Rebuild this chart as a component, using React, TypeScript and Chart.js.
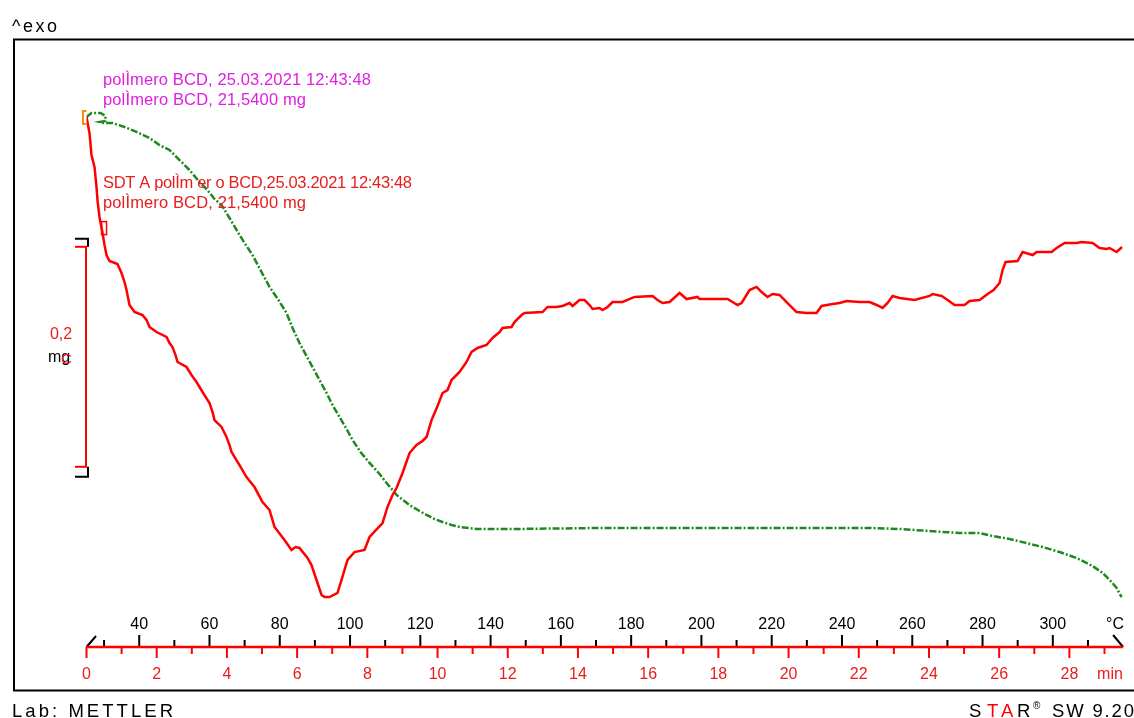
import React, { useEffect, useRef } from "react";
import { Chart, registerables } from "chart.js";

Chart.register(...registerables);

// SDTA trace (red): [time in min, signal in scale units; 0,2 per scale bar]
const sdtaTrace: [number, number][] = [
  [0, 0], [0.085, -0.0145], [0.142, -0.0345], [0.228, -0.0455], [0.285, -0.0636], [0.313, -0.0755],
  [0.37, -0.0909], [0.456, -0.1055], [0.513, -0.1164], [0.57, -0.1255], [0.655, -0.1309], [0.883, -0.1336],
  [0.997, -0.1418], [1.083, -0.15], [1.14, -0.1573], [1.225, -0.1709], [1.368, -0.1773], [1.595, -0.18],
  [1.709, -0.1845], [1.795, -0.1909], [1.994, -0.1955], [2.279, -0.2], [2.365, -0.2055], [2.45, -0.2091],
  [2.536, -0.2164], [2.593, -0.2227], [2.849, -0.2273], [2.991, -0.2345], [3.134, -0.2409], [3.305, -0.25],
  [3.504, -0.26], [3.59, -0.2682], [3.647, -0.2755], [3.846, -0.2818], [3.989, -0.2909], [4.074, -0.2982],
  [4.131, -0.3045], [4.359, -0.3164], [4.558, -0.3273], [4.786, -0.3364], [5.014, -0.35], [5.214, -0.3573],
  [5.356, -0.3727], [5.641, -0.3845], [5.84, -0.3936], [5.954, -0.3909], [6.068, -0.3918], [6.296, -0.4009],
  [6.41, -0.4073], [6.553, -0.4209], [6.695, -0.4345], [6.781, -0.4364], [6.923, -0.4364], [7.151, -0.4327],
  [7.265, -0.4209], [7.436, -0.4027], [7.635, -0.3955], [7.92, -0.3936], [8.063, -0.3818], [8.433, -0.3691],
  [8.575, -0.3545], [8.718, -0.3436], [8.832, -0.3373], [9.003, -0.3236], [9.202, -0.3055], [9.402, -0.2982],
  [9.573, -0.2945], [9.687, -0.2909], [9.829, -0.2755], [10.0, -0.2627], [10.142, -0.2509], [10.285, -0.2482],
  [10.399, -0.2391], [10.627, -0.2318], [10.826, -0.2227], [10.969, -0.2136], [11.14, -0.21], [11.396, -0.2073],
  [11.567, -0.2009], [11.766, -0.1955], [11.852, -0.1918], [12.108, -0.1909], [12.194, -0.1864], [12.393, -0.18],
  [12.479, -0.1782], [12.991, -0.1773], [13.134, -0.1727], [13.39, -0.1727], [13.561, -0.1718], [13.761, -0.1691],
  [13.846, -0.1718], [14.046, -0.1664], [14.188, -0.1664], [14.33, -0.1709], [14.416, -0.1745], [14.615, -0.1736],
  [14.701, -0.1755], [14.843, -0.1727], [14.986, -0.1682], [15.271, -0.1682], [15.613, -0.1636], [16.125, -0.1627],
  [16.268, -0.1664], [16.41, -0.1691], [16.61, -0.1682], [16.895, -0.16], [17.094, -0.1655], [17.407, -0.1636],
  [17.464, -0.1655], [18.262, -0.1655], [18.547, -0.1709], [18.661, -0.1691], [18.889, -0.1573], [19.088, -0.1545],
  [19.231, -0.1591], [19.402, -0.1636], [19.544, -0.1609], [19.744, -0.1618], [19.943, -0.1682], [20.228, -0.1773],
  [20.513, -0.1782], [20.798, -0.1782], [20.94, -0.1718], [21.254, -0.17], [21.453, -0.1691], [21.652, -0.1673],
  [22.023, -0.1682], [22.308, -0.1682], [22.507, -0.1709], [22.678, -0.1736], [22.821, -0.1691], [22.963, -0.1627],
  [23.162, -0.1645], [23.59, -0.1664], [24.017, -0.1627], [24.103, -0.1609], [24.359, -0.1627], [24.53, -0.1664],
  [24.729, -0.1709], [25.014, -0.1709], [25.157, -0.1673], [25.442, -0.1664], [25.67, -0.1609], [25.84, -0.1573],
  [26.011, -0.1509], [26.097, -0.1391], [26.182, -0.1318], [26.524, -0.1309], [26.667, -0.1227], [26.952, -0.1255],
  [27.066, -0.1227], [27.493, -0.1227], [27.635, -0.1191], [27.863, -0.1145], [28.205, -0.1145], [28.348, -0.1136],
  [28.661, -0.1145], [28.86, -0.1191], [29.06, -0.12], [29.145, -0.1191], [29.345, -0.1227], [29.5, -0.1182],
];

// TGA trace (green): [time in min, sample mass in mg]
const tgaTrace: [number, number][] = [
  [0, 21.54], [0.142, 21.5436], [0.399, 21.5436], [0.541, 21.5409], [0.541, 21.5364], [0.37, 21.5355],
  [0.484, 21.5345], [0.741, 21.5345], [1.083, 21.5309], [1.425, 21.5264], [1.795, 21.5209], [2.08, 21.5145],
  [2.365, 21.51], [2.65, 21.5009], [2.934, 21.4918], [3.219, 21.4809], [3.419, 21.4745], [3.647, 21.4655],
  [3.846, 21.46], [4.074, 21.4482], [4.274, 21.4373], [4.501, 21.4255], [4.729, 21.4145], [4.986, 21.3991],
  [5.214, 21.3855], [5.47, 21.3736], [5.698, 21.3618], [5.869, 21.3482], [6.068, 21.3345], [6.268, 21.3227],
  [6.439, 21.3127], [6.638, 21.3009], [6.838, 21.2891], [7.009, 21.2782], [7.208, 21.2673], [7.407, 21.2564],
  [7.578, 21.2464], [7.806, 21.2355], [8.063, 21.2255], [8.348, 21.2155], [8.547, 21.2073], [8.718, 21.2009],
  [8.832, 21.1964], [9.202, 21.1873], [9.487, 21.1818], [9.687, 21.1782], [9.915, 21.1745], [10.142, 21.1718],
  [10.399, 21.1691], [10.627, 21.1673], [11.111, 21.1655], [12.336, 21.1655], [14.615, 21.1664], [17.464, 21.1664],
  [20.313, 21.1664], [22.308, 21.1664], [23.162, 21.1655], [24.017, 21.1636], [24.872, 21.1618], [25.442, 21.1618],
  [25.812, 21.1591], [26.296, 21.1564], [26.781, 21.1527], [27.236, 21.1491], [27.721, 21.1445], [28.205, 21.1391],
  [28.661, 21.1318], [28.946, 21.1255], [29.202, 21.1173], [29.345, 21.1118], [29.487, 21.1036],
];

// Axis ticks
const timeMajorTicks = [0, 2, 4, 6, 8, 10, 12, 14, 16, 18, 20, 22, 24, 26, 28];
const timeMinorTicks = [1, 3, 5, 7, 9, 11, 13, 15, 17, 19, 21, 23, 25, 27, 29];
const tempMajorTicks = [40, 60, 80, 100, 120, 140, 160, 180, 200, 220, 240, 260, 280, 300];
const tempMinorTicks = [30, 50, 70, 90, 110, 130, 150, 170, 190, 210, 230, 250, 270, 290, 310];

// Curve captions
const tgaCaption = ["polÌmero BCD, 25.03.2021 12:43:48", "polÌmero BCD, 21,5400 mg"];
const sdtaCaption = ["SDT A polÌm er o BCD,25.03.2021 12:43:48", "polÌmero BCD, 21,5400 mg"];

// 0,2 mg scale bar (mass values of its two ends)
const scaleBarMass = [21.222, 21.422];
const scaleBarLabel = "0,2";

// evaluation marker on the SDTA trace
const sdtaMarker = { t: 0.5, v: -0.101 };

const RED = "#ff0000";
const RED_TEXT = "#e81c1c";
const MAGENTA = "#e020e0";
const GREEN = "#1e8a1e";
const ORANGE = "#ff8a00";
const FONT = '"Liberation Sans", Arial, sans-serif';

// draw text with letters spread so that it spans a given width
function drawSpaced(ctx: CanvasRenderingContext2D, text: string, x: number, y: number, width: number) {
  const chars = Array.from(text);
  const widths = chars.map((c) => ctx.measureText(c).width);
  const natural = widths.reduce((a, b) => a + b, 0);
  const extra = chars.length > 1 ? (width - natural) / (chars.length - 1) : 0;
  let cx = x;
  chars.forEach((c, i) => {
    ctx.fillText(c, cx, y);
    cx += widths[i] + extra;
  });
}

function line(ctx: CanvasRenderingContext2D, x1: number, y1: number, x2: number, y2: number) {
  ctx.beginPath();
  ctx.moveTo(x1, y1);
  ctx.lineTo(x2, y2);
  ctx.stroke();
}

const decorations = {
  id: "decorations",
  afterDraw(chart: any) {
    const ctx: CanvasRenderingContext2D = chart.ctx;
    const sx = chart.scales.x;
    const st = chart.scales.xTemp;
    const sm = chart.scales.yTga;
    const ss = chart.scales.ySdta;
    ctx.save();
    ctx.lineCap = "butt";
    ctx.textBaseline = "alphabetic";

    // outer frame
    ctx.strokeStyle = "#000";
    ctx.lineWidth = 2;
    ctx.beginPath();
    ctx.moveTo(1140, 39.5);
    ctx.lineTo(14, 39.5);
    ctx.lineTo(14, 690.5);
    ctx.lineTo(1140, 690.5);
    ctx.stroke();

    // "^exo"
    ctx.fillStyle = "#000";
    ctx.font = `18px ${FONT}`;
    ctx.textAlign = "left";
    drawSpaced(ctx, "^exo", 12, 32, 45);

    // axis strip: temperature ticks (black) above, time ticks (red) below
    const axisY = 647;
    const x0 = sx.getPixelForValue(0);
    const xEnd = sx.right;

    ctx.strokeStyle = "#000";
    ctx.lineWidth = 2;
    tempMajorTicks.forEach((T) => {
      const px = st.getPixelForValue(T);
      line(ctx, px, axisY, px, axisY - 12);
    });
    tempMinorTicks.forEach((T) => {
      const px = st.getPixelForValue(T);
      line(ctx, px, axisY, px, axisY - 7);
    });
    line(ctx, x0, axisY, x0 + 9.5, axisY - 11);
    line(ctx, xEnd - 10, axisY - 12, xEnd, axisY);

    ctx.fillStyle = "#000";
    ctx.font = `16px ${FONT}`;
    ctx.textAlign = "center";
    tempMajorTicks.forEach((T) => ctx.fillText(String(T), st.getPixelForValue(T), 628.5));
    ctx.fillText("°C", 1115, 628.5);

    ctx.strokeStyle = RED;
    ctx.lineWidth = 2.5;
    line(ctx, x0, axisY, xEnd, axisY);
    ctx.lineWidth = 2;
    timeMajorTicks.forEach((t) => {
      const px = sx.getPixelForValue(t);
      line(ctx, px, axisY, px, axisY + 11);
    });
    timeMinorTicks.forEach((t) => {
      const px = sx.getPixelForValue(t);
      line(ctx, px, axisY, px, axisY + 7);
    });
    ctx.fillStyle = RED_TEXT;
    timeMajorTicks.forEach((t) => ctx.fillText(String(t), sx.getPixelForValue(t), 678.5));
    ctx.fillText("min", 1110, 678.5);

    // 0,2 mg scale bar
    const yTop = sm.getPixelForValue(scaleBarMass[1]);
    const yBot = sm.getPixelForValue(scaleBarMass[0]);
    const bx = x0 - 0.5;
    ctx.strokeStyle = "#000";
    ctx.lineWidth = 2;
    ctx.beginPath();
    ctx.moveTo(75, yTop - 8);
    ctx.lineTo(bx + 2, yTop - 8);
    ctx.lineTo(bx + 2, yTop);
    ctx.stroke();
    ctx.beginPath();
    ctx.moveTo(75, yBot + 10);
    ctx.lineTo(bx + 2, yBot + 10);
    ctx.lineTo(bx + 2, yBot);
    ctx.stroke();
    ctx.strokeStyle = RED;
    line(ctx, bx, yTop, bx, yBot);
    line(ctx, 75, yTop, bx + 1, yTop);
    line(ctx, 75, yBot, bx + 1, yBot);

    ctx.font = `16px ${FONT}`;
    ctx.textAlign = "center";
    ctx.fillStyle = RED_TEXT;
    ctx.fillText(scaleBarLabel, 61, 338.5);
    ctx.textAlign = "left";
    ctx.fillStyle = "#000";
    ctx.fillText("mg", 48, 362);
    ctx.fillStyle = RED_TEXT;
    ctx.font = `15px ${FONT}`;
    ctx.fillText("C", 61, 364);

    // start marker of the TGA trace
    const sx0 = sx.getPixelForValue(tgaTrace[0][0]);
    const sy0 = sm.getPixelForValue(tgaTrace[0][1]);
    ctx.strokeStyle = ORANGE;
    ctx.lineWidth = 2;
    ctx.beginPath();
    ctx.moveTo(sx0, sy0 - 6);
    ctx.lineTo(sx0 - 3.5, sy0 - 6);
    ctx.lineTo(sx0 - 3.5, sy0 + 7);
    ctx.lineTo(sx0, sy0 + 7);
    ctx.stroke();

    // evaluation marker on the SDTA trace
    const mx = sx.getPixelForValue(sdtaMarker.t);
    const my = ss.getPixelForValue(sdtaMarker.v);
    ctx.strokeStyle = RED;
    ctx.lineWidth = 1.5;
    ctx.strokeRect(mx - 2.5, my - 6.5, 5, 13);

    // captions
    ctx.font = `16.5px ${FONT}`;
    ctx.textAlign = "left";
    ctx.fillStyle = MAGENTA;
    drawSpaced(ctx, tgaCaption[0], 103, 85, 268);
    drawSpaced(ctx, tgaCaption[1], 103, 104.5, 203);
    ctx.fillStyle = RED_TEXT;
    drawSpaced(ctx, sdtaCaption[0], 103, 188, 309);
    drawSpaced(ctx, sdtaCaption[1], 103, 208, 203);

    // footer
    ctx.font = `18.5px ${FONT}`;
    ctx.fillStyle = "#000";
    drawSpaced(ctx, "Lab: METTLER", 12, 717, 161);
    const star: [string, string, number][] = [
      ["S", "#000", 969],
      ["T", RED, 987],
      ["A", RED, 1001],
      ["R", "#000", 1017],
    ];
    star.forEach(([c, col, px]) => {
      ctx.fillStyle = col;
      ctx.fillText(c, px, 717);
    });
    ctx.fillStyle = "#000";
    ctx.font = `10px ${FONT}`;
    ctx.fillText("®", 1033, 709);
    ctx.font = `18.5px ${FONT}`;
    drawSpaced(ctx, "SW 9.20", 1052, 717, 82);

    ctx.restore();
  },
};

export default function App() {
  const canvasRef = useRef<HTMLCanvasElement | null>(null);

  useEffect(() => {
    const canvas = canvasRef.current;
    if (!canvas) return;
    const chart = new Chart(canvas, {
      type: "line",
      data: {
        datasets: [
          {
            label: "SDTA",
            data: sdtaTrace.map(([x, y]) => ({ x, y })),
            xAxisID: "x",
            yAxisID: "ySdta",
            borderColor: RED,
            borderWidth: 2.5,
            pointRadius: 0,
            tension: 0,
            fill: false,
          },
          {
            label: "TGA",
            data: tgaTrace.map(([x, y]) => ({ x, y })),
            xAxisID: "x",
            yAxisID: "yTga",
            borderColor: GREEN,
            borderWidth: 2.5,
            borderDash: [7, 2, 2, 2],
            pointRadius: 0,
            tension: 0,
            fill: false,
          },
        ],
      },
      options: {
        responsive: false,
        animation: false,
        devicePixelRatio: 1,
        events: [],
        layout: { autoPadding: false, padding: { left: 86.5, right: 10.9, top: 40, bottom: 18 } },
        scales: {
          x: { type: "linear", min: 0, max: 29.53, display: false },
          xTemp: { type: "linear", axis: "x", position: "bottom", min: 25, max: 320, display: false },
          yTga: { type: "linear", position: "left", min: 21.01, max: 21.61, display: false },
          ySdta: { type: "linear", position: "left", min: -0.53, max: 0.07, display: false },
        },
        plugins: { legend: { display: false }, tooltip: { enabled: false } },
      } as any,
      plugins: [decorations],
    });
    return () => chart.destroy();
  }, []);

  return (
    <div style={{ position: "absolute", left: 0, top: 0, width: 1134, height: 718, background: "#fff" }}>
      <canvas ref={canvasRef} width={1134} height={718} style={{ display: "block" }} />
    </div>
  );
}
